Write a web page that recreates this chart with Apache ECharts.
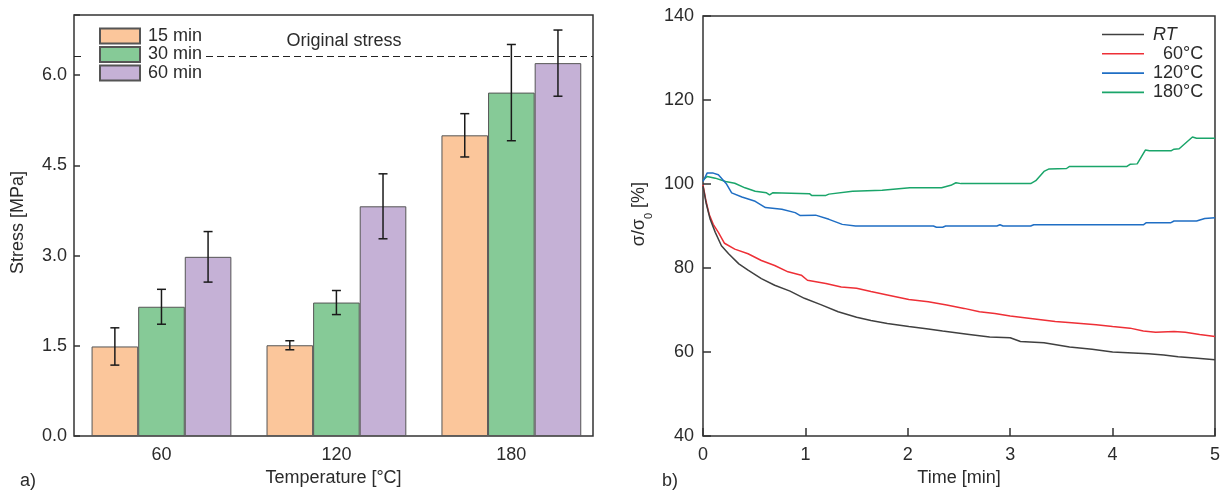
<!DOCTYPE html>
<html>
<head>
<meta charset="utf-8">
<script src="https://cdn.jsdelivr.net/npm/echarts@6/dist/echarts.min.js"></script>
<style>
  html, body { margin: 0; padding: 0; background: #fff; }
  #chart { width: 1223px; height: 492px; }
</style>
</head>
<body>
<div id="chart"></div>
<script>
// ---- a) residual stress after holding at temperature ----
const temps = [60, 120, 180];
const durations = ['15 min', '30 min', '60 min'];
const stress15 = [1.49, 1.51, 5.00];
const stress30 = [2.15, 2.22, 5.71];
const stress60 = [2.98, 3.82, 6.20];
const err15 = [0.31, 0.075, 0.36];
const err30 = [0.29, 0.20, 0.80];
const err60 = [0.42, 0.54, 0.55];
const originalStress = 6.32;
const stressTicks = [0, 1.5, 3.0, 4.5, 6.0];

// ---- b) stress relaxation curves, [time min, sigma/sigma0 %] ----
const curveRT = [[0, 99.5], [0.03, 95.5], [0.07, 91.6], [0.12, 88.5], [0.18, 85.3], [0.25, 83.4], [0.35, 81.0],
  [0.44, 79.5], [0.57, 77.5], [0.70, 75.9], [0.85, 74.5], [0.99, 72.8], [1.15, 71.3], [1.32, 69.6], [1.5, 68.3],
  [1.64, 67.5], [1.8, 66.8], [2.01, 66.1], [2.2, 65.5], [2.34, 65.0], [2.6, 64.2], [2.8, 63.6], [3.0, 63.4],
  [3.1, 62.5], [3.33, 62.2], [3.58, 61.2], [3.8, 60.7], [4.0, 60.0], [4.2, 59.8], [4.35, 59.6], [4.5, 59.3],
  [4.64, 58.9], [4.8, 58.6], [5.0, 58.2]];
const curve60 = [[0, 99.8], [0.03, 95.9], [0.06, 92.8], [0.10, 90.4], [0.15, 88.5], [0.21, 85.9], [0.31, 84.5],
  [0.44, 83.4], [0.57, 81.8], [0.70, 80.6], [0.83, 79.1], [0.96, 78.3], [1.02, 77.1], [1.2, 76.3], [1.35, 75.5],
  [1.5, 75.2], [1.64, 74.4], [1.8, 73.6], [2.01, 72.5], [2.2, 72.0], [2.38, 71.2], [2.55, 70.4], [2.70, 69.6],
  [2.85, 69.2], [3.0, 68.6], [3.2, 68.0], [3.44, 67.3], [3.6, 67.0], [3.84, 66.5], [4.0, 66.1], [4.17, 65.7],
  [4.3, 65.0], [4.42, 64.7], [4.6, 64.9], [4.71, 64.7], [4.85, 64.2], [5.0, 63.7]];
const curve120 = [[0, 100.6], [0.04, 102.6], [0.10, 102.6], [0.15, 102.2], [0.23, 100.0], [0.28, 97.9], [0.38, 96.9],
  [0.51, 95.9], [0.61, 94.4], [0.77, 94.0], [0.9, 93.2], [0.95, 92.5], [1.1, 92.6], [1.23, 91.6], [1.36, 90.4],
  [1.49, 90.0], [2.25, 90.0], [2.28, 89.7], [2.34, 89.7], [2.37, 90.0], [2.87, 90.0], [2.9, 90.3], [2.93, 90.0],
  [3.2, 90.0], [3.23, 90.3], [4.3, 90.3], [4.33, 90.8], [4.57, 90.8], [4.6, 91.2], [4.82, 91.2], [4.9, 91.8], [5.0, 92.0]];
const curve180 = [[0, 100.9], [0.04, 101.8], [0.12, 101.4], [0.22, 100.6], [0.31, 100.2], [0.41, 99.1], [0.51, 98.3],
  [0.62, 97.9], [0.65, 97.4], [0.68, 97.9], [1.04, 97.7], [1.06, 97.3], [1.2, 97.3], [1.23, 97.6], [1.46, 98.3],
  [1.75, 98.5], [2.02, 99.1], [2.33, 99.1], [2.42, 99.7], [2.47, 100.3], [2.52, 100.1], [3.2, 100.1], [3.25, 100.8],
  [3.33, 103.0], [3.38, 103.6], [3.55, 103.7], [3.58, 104.2], [4.14, 104.2], [4.17, 104.7], [4.24, 104.8],
  [4.32, 108.1], [4.36, 107.9], [4.57, 107.9], [4.6, 108.3], [4.65, 108.4], [4.78, 111.2], [4.82, 110.9], [5.0, 110.9]];
const curveNames = ['RT', '\u200760°C', '120°C', '180°C'];

const FONT = '"Liberation Sans", Arial, Helvetica, sans-serif';
const TEXT = '#2b2b2b';
const AXIS = '#333333';
const BAR_W = 46.6;
const barColors = ['#fbc69b', '#86ca97', '#c5b1d6'];
const lineColors = ['#404040', '#ee2f36', '#1f6ec4', '#1aa56a'];

const means = [stress15, stress30, stress60];
const errs = [err15, err30, err60];

function errorBarRenderer(offset) {
  return function (params, api) {
    const x = api.value(0);
    const lo = api.coord([x, api.value(1)]);
    const hi = api.coord([x, api.value(2)]);
    const cx = lo[0] + offset;
    const cap = 4.5;
    const style = { stroke: '#1a1a1a', lineWidth: 1.5 };
    return {
      type: 'group',
      children: [
        { type: 'line', shape: { x1: cx, y1: hi[1], x2: cx, y2: lo[1] }, style },
        { type: 'line', shape: { x1: cx - cap, y1: hi[1], x2: cx + cap, y2: hi[1] }, style },
        { type: 'line', shape: { x1: cx - cap, y1: lo[1], x2: cx + cap, y2: lo[1] }, style }
      ]
    };
  };
}

const barSeries = durations.map((name, k) => ({
  name,
  type: 'bar',
  xAxisIndex: 0, yAxisIndex: 0,
  barWidth: BAR_W,
  barGap: '0%',
  data: temps.map((t, i) => [t, means[k][i]]),
  itemStyle: { color: barColors[k], borderColor: '#555', borderWidth: 1 },
  z: 2,
  markLine: k === 0 ? {
    silent: true,
    symbol: 'none',
    z: 3,
    data: [{ yAxis: originalStress }],
    lineStyle: { type: [7, 4], color: '#222', width: 1.2 },
    label: {
      show: true, position: 'middle', formatter: 'Original stress', distance: 6,
      padding: [0, 0, 0, 21], color: TEXT, fontSize: 18, fontFamily: FONT
    }
  } : undefined
}));

const errorSeries = durations.map((name, k) => ({
  name: name + ' error',
  type: 'custom',
  xAxisIndex: 0, yAxisIndex: 0,
  renderItem: errorBarRenderer((k - 1) * BAR_W),
  data: temps.map((t, i) => [t, means[k][i] - errs[k][i], means[k][i] + errs[k][i]]),
  z: 5
}));

const lineSeries = [curveRT, curve60, curve120, curve180].map((d, k) => ({
  name: curveNames[k],
  type: 'line',
  xAxisIndex: 1, yAxisIndex: 1,
  data: d,
  symbol: 'none',
  lineStyle: { color: lineColors[k], width: 1.5 },
  itemStyle: { color: lineColors[k] },
  z: 3 + (3 - k)
}));

const option = {
  animation: false,
  backgroundColor: '#fff',
  textStyle: { fontFamily: FONT, color: TEXT },
  grid: [
    { left: 74, top: 15, width: 519, height: 425.7, show: true, borderColor: AXIS, borderWidth: 1.5, backgroundColor: 'transparent' },
    { left: 703, top: 16, width: 516, height: 425, show: true, borderColor: AXIS, borderWidth: 1.5, backgroundColor: 'transparent' }
  ],
  xAxis: [
    {
      type: 'value', gridIndex: 0, min: 30, max: 208,
      name: 'Temperature [°C]', nameLocation: 'middle', nameGap: 32,
      nameTextStyle: { fontSize: 18, color: TEXT, fontFamily: FONT },
      axisLine: { show: false }, axisTick: { show: false }, splitLine: { show: false },
      axisLabel: {
        customValues: temps, formatter: v => String(v),
        fontSize: 18, color: TEXT, fontFamily: FONT, margin: 10
      }
    },
    {
      type: 'value', gridIndex: 1, min: 0, max: 5, interval: 1,
      name: 'Time [min]', nameLocation: 'middle', nameGap: 32,
      nameTextStyle: { fontSize: 18, color: TEXT, fontFamily: FONT },
      axisLine: { show: false },
      axisTick: { show: true, inside: true, length: 8, lineStyle: { color: AXIS, width: 1.5 } },
      splitLine: { show: false },
      axisLabel: { fontSize: 18, color: TEXT, fontFamily: FONT, margin: 10 }
    }
  ],
  yAxis: [
    {
      type: 'value', gridIndex: 0, min: 0, max: 7, interval: 1.5,
      name: 'Stress [MPa]', nameLocation: 'middle', nameGap: 47,
      nameTextStyle: { fontSize: 18, color: TEXT, fontFamily: FONT, padding: [0, 0, 0, 6] },
      axisLine: { show: false },
      axisTick: { show: true, inside: true, length: 6, lineStyle: { color: AXIS, width: 1.5 } },
      splitLine: { show: false },
      axisLabel: {
        fontSize: 18, color: TEXT, fontFamily: FONT, margin: 7,
        formatter: v => (stressTicks.some(t => Math.abs(t - v) < 1e-6) ? v.toFixed(1) : '')
      }
    },
    {
      type: 'value', gridIndex: 1, min: 40, max: 140, interval: 20,
      name: '{m|σ/σ}{s|0}{m| [%]}', nameLocation: 'middle', nameGap: 49,
      nameTextStyle: {
        fontSize: 18, color: TEXT, fontFamily: FONT, padding: [0, 0, 0, 24],
        rich: {
          m: { fontSize: 18, lineHeight: 24, verticalAlign: 'top', color: TEXT, fontFamily: FONT },
          s: { fontSize: 11, lineHeight: 11, verticalAlign: 'bottom', color: TEXT, fontFamily: FONT }
        }
      },
      axisLine: { show: false },
      axisTick: { show: true, inside: true, length: 8, lineStyle: { color: AXIS, width: 1.5 } },
      splitLine: { show: false },
      axisLabel: { fontSize: 18, color: TEXT, fontFamily: FONT, margin: 9 }
    }
  ],
  legend: [
    {
      data: durations,
      orient: 'vertical',
      left: 82, top: 25,
      z: 20,
      padding: [2, 4, 2, 17],
      backgroundColor: '#fff',
      icon: 'rect',
      itemWidth: 40, itemHeight: 15, itemGap: 0.5,
      selectedMode: false,
      textStyle: { fontSize: 18, lineHeight: 18, color: TEXT, fontFamily: FONT, padding: [0, 0, 0, 3] }
    },
    {
      data: curveNames,
      orient: 'vertical',
      left: 1097, top: 20,
      z: 20,
      icon: 'rect',
      itemWidth: 42, itemHeight: 1.6, itemGap: 0.3,
      selectedMode: false,
      formatter: n => (n === 'RT' ? '{it|RT}' : n),
      textStyle: {
        fontSize: 18, lineHeight: 19, color: TEXT, fontFamily: FONT, padding: [0, 0, 0, 4],
        rich: { it: { fontStyle: 'italic', fontSize: 18, lineHeight: 19, color: TEXT, fontFamily: FONT } }
      }
    }
  ],
  graphic: [
    { type: 'text', left: 20, top: 472, style: { text: 'a)', fontSize: 18, fontFamily: FONT, fill: TEXT } },
    { type: 'text', left: 662, top: 472, style: { text: 'b)', fontSize: 18, fontFamily: FONT, fill: TEXT } }
  ],
  series: [...barSeries, ...errorSeries, ...lineSeries]
};

const chart = echarts.init(document.getElementById('chart'), null, { renderer: 'canvas' });
chart.setOption(option);
</script>
</body>
</html>
